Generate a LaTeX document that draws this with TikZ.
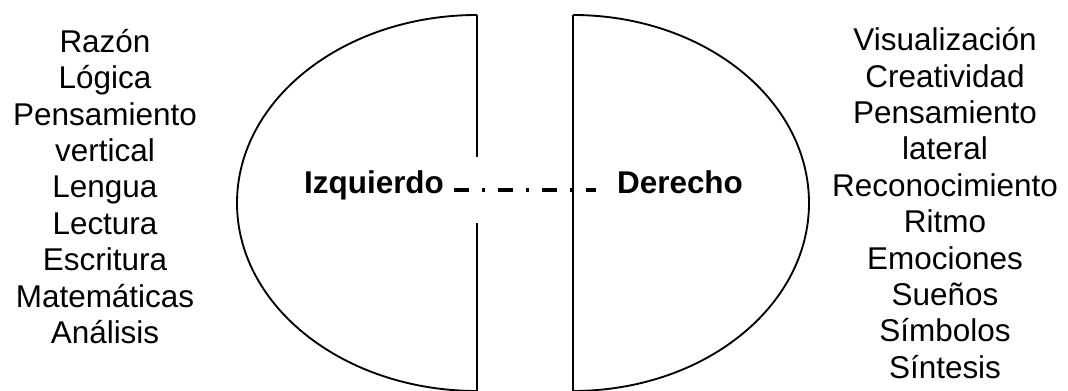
\documentclass[tikz,border=0pt]{standalone}
\usepackage{fontspec}
\setmainfont{Liberation Sans}
\usetikzlibrary{positioning}

\begin{document}
\begin{tikzpicture}[x=0.75pt, y=0.75pt,
  % ---- one style per kind of text -------------------------------------
  lista/.style={align=center, inner sep=0pt,
    font=\fontsize{23.6pt}{27.3pt}\selectfont},
  lado/.style={anchor=base, inner ysep=0pt,
    font=\fontsize{23.6pt}{27.3pt}\selectfont\bfseries},
  borde/.style={draw=black, line width=1.4pt},
  corte/.style={draw=black, line width=1.7pt},
  enlace/.style={draw=black, line width=2.4pt,
    dash pattern=on 11.25pt off 9.75pt on 2.25pt off 9.75pt},
]
\useasboundingbox (0,0) rectangle (1068,-391);

% =====================================================================
%  THE TWO HALVES
% =====================================================================
% left half
\draw[borde] (477,-15) arc[start angle=90, end angle=270,
                           x radius=240, y radius=188];
\draw[corte] (477,-15) -- (477,-157);
\draw[corte] (477,-223) -- (477,-391);

% right half
\draw[borde] (573,-15) arc[start angle=90, end angle=-90,
                           x radius=236, y radius=188];

% =====================================================================
%  NAMES AND THE LINK BETWEEN THEM
% =====================================================================
\node[lado, inner xsep=7.5pt]   (izq) at (374,-194) {Izquierdo};
\node[lado, inner xsep=15.75pt] (der) at (680,-194) {Derecho};
\draw[enlace] ([yshift=3pt]izq.base east) -- ([yshift=3pt]der.base west);

\draw[corte] (573,-15) -- (573,-391);

% =====================================================================
%  WHAT EACH SIDE DOES
% =====================================================================
\node[lista] (funcizq) at (105,-186.5)
  {Razón\\Lógica\\Pensamiento\\vertical\\Lengua\\Lectura\\Escritura\\Matemáticas\\Análisis};
\node[lista] (funcder) at (945,-203)
  {Visualización\\Creatividad\\Pensamiento\\lateral\\Reconocimiento\\Ritmo\\Emociones\\Sueños\\Símbolos\\Síntesis};

\end{tikzpicture}
\end{document}
